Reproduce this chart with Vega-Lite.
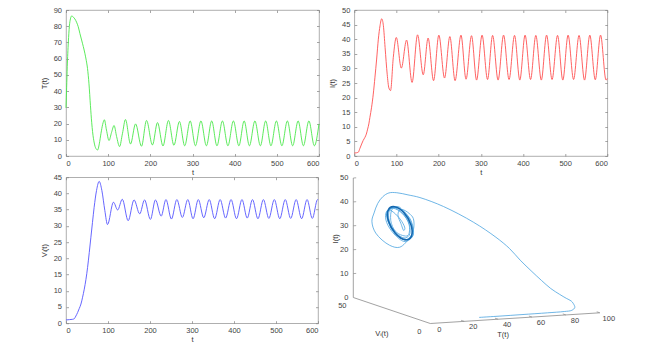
{
"$schema": "https://vega.github.io/schema/vega-lite/v6.json",
"background": "white",
"padding": {"left": 40, "top": 5, "right": 0, "bottom": 0},
"autosize": {"type": "pad"},
"bounds": "flush",
"columns": 2,
"align": "each",
"spacing": {"row": 21.2, "column": 35.3},
"datasets": {
"T": [{"t":0,"v":29.7},{"t":1.5,"v":42},{"t":3,"v":55},{"t":5.5,"v":70},{"t":8,"v":80},{"t":10.5,"v":84.5},{"t":13.4,"v":86.3},{"t":18,"v":85.5},{"t":21,"v":84.5},{"t":25,"v":82.5},{"t":29,"v":79.7},{"t":33,"v":75.5},{"t":37,"v":71.5},{"t":41,"v":67.5},{"t":45,"v":63},{"t":48,"v":59},{"t":51,"v":54},{"t":54.5,"v":44.5},{"t":58,"v":31},{"t":61,"v":20.5},{"t":63,"v":15},{"t":67,"v":8},{"t":71,"v":4.6},{"t":75,"v":3.7},{"t":79,"v":7.5},{"t":83,"v":14},{"t":87,"v":19.5},{"t":91,"v":22.3},{"t":96,"v":16},{"t":102,"v":9.5},{"t":108,"v":14.5},{"t":114,"v":18.8},{"t":120,"v":12},{"t":127,"v":5.8},{"t":134,"v":14},{"t":141,"v":22.5},{"t":153,"v":7.4},{"t":165,"v":19.8},{"t":179,"v":6.0},{"t":191,"v":21.9},{"t":205,"v":6.8},{"t":217,"v":20.6},{"t":230,"v":6.2},{"t":243,"v":21.9},{"t":256,"v":6.6},{"t":269,"v":21.3},{"t":281.5,"v":6.3},{"t":294.5,"v":21.6},{"t":307,"v":6.3},{"t":320,"v":21.6},{"t":333,"v":6.3},{"t":345.5,"v":21.6},{"t":358,"v":6.3},{"t":371,"v":21.6},{"t":384,"v":6.3},{"t":397,"v":21.6},{"t":410,"v":6.3},{"t":422.5,"v":21.6},{"t":435,"v":6.3},{"t":448,"v":21.6},{"t":461,"v":6.3},{"t":473.5,"v":21.6},{"t":486,"v":6.3},{"t":499,"v":21.6},{"t":512,"v":6.3},{"t":525,"v":21.6},{"t":537.5,"v":6.3},{"t":550.5,"v":21.6},{"t":563,"v":6.3},{"t":576,"v":21.6},{"t":589,"v":6.3},{"t":600,"v":19.8}],
"I": [{"t":0,"v":1.0},{"t":5,"v":1.1},{"t":9.5,"v":1.3},{"t":13,"v":2.5},{"t":17.4,"v":4.1},{"t":21,"v":5.3},{"t":25.3,"v":6.4},{"t":28.5,"v":7.5},{"t":31.6,"v":9.2},{"t":34.5,"v":11},{"t":37,"v":13.2},{"t":41,"v":16.7},{"t":45,"v":21.2},{"t":49,"v":27},{"t":53,"v":33.2},{"t":57,"v":40},{"t":61,"v":44.6},{"t":65,"v":47},{"t":69,"v":44.6},{"t":73,"v":37.2},{"t":78,"v":28},{"t":82,"v":23.3},{"t":86,"v":22.4},{"t":92.5,"v":33.8},{"t":99.6,"v":40.6},{"t":111.5,"v":30.1},{"t":124,"v":39.7},{"t":137,"v":25.2},{"t":150,"v":41.5},{"t":163.5,"v":27.8},{"t":175,"v":40.4},{"t":188,"v":25.8},{"t":200.5,"v":41.4},{"t":214,"v":26.7},{"t":226.6,"v":40.9},{"t":239,"v":25.8},{"t":253,"v":41.4},{"t":265,"v":26.3},{"t":278,"v":41.2},{"t":290,"v":26},{"t":303,"v":41.4},{"t":316,"v":26.2},{"t":328,"v":41.3},{"t":341,"v":26},{"t":354,"v":41.4},{"t":367,"v":26.2},{"t":380,"v":41.3},{"t":392.5,"v":26},{"t":405,"v":41.4},{"t":418,"v":26.2},{"t":430.5,"v":41.3},{"t":443.5,"v":26},{"t":456,"v":41.4},{"t":469,"v":26.2},{"t":482,"v":41.3},{"t":494.5,"v":26},{"t":507,"v":41.4},{"t":520,"v":26.2},{"t":533,"v":41.3},{"t":546,"v":26},{"t":558.5,"v":41.4},{"t":571.5,"v":26.1},{"t":584,"v":41.4},{"t":597,"v":26},{"t":600,"v":26.6}],
"V": [{"t":0,"v":1.0},{"t":8,"v":1.1},{"t":15.8,"v":1.2},{"t":19.8,"v":1.4},{"t":23.5,"v":2.2},{"t":27.7,"v":3.3},{"t":31.5,"v":4.5},{"t":35.6,"v":5.9},{"t":39.5,"v":8},{"t":43.5,"v":10.5},{"t":47.5,"v":13.5},{"t":51.4,"v":17.2},{"t":55.4,"v":21.8},{"t":59.3,"v":26.5},{"t":63,"v":31},{"t":67,"v":35.7},{"t":72.7,"v":40.9},{"t":79,"v":43.7},{"t":85.4,"v":40.9},{"t":92.5,"v":34.7},{"t":98.8,"v":30.4},{"t":113,"v":37.3},{"t":123,"v":34.9},{"t":134,"v":38.2},{"t":148,"v":31.6},{"t":162,"v":38},{"t":175.5,"v":33.7},{"t":187,"v":38},{"t":201,"v":32},{"t":213,"v":38},{"t":226.6,"v":33},{"t":238,"v":38.1},{"t":251,"v":32.1},{"t":264,"v":38.1},{"t":277,"v":32.6},{"t":290,"v":38.1},{"t":302.5,"v":32.2},{"t":315,"v":38.1},{"t":328,"v":32.5},{"t":341,"v":38.1},{"t":354,"v":32.2},{"t":367,"v":38.1},{"t":380,"v":32.4},{"t":393,"v":38.1},{"t":406,"v":32.2},{"t":419,"v":38.1},{"t":431.5,"v":32.4},{"t":444,"v":38.1},{"t":457,"v":32.2},{"t":470,"v":38.1},{"t":483,"v":32.3},{"t":496,"v":38.1},{"t":509,"v":32.2},{"t":522,"v":38.1},{"t":535,"v":32.3},{"t":548,"v":38.1},{"t":561,"v":32.2},{"t":574,"v":38.1},{"t":586.5,"v":32.3},{"t":599,"v":38.1},{"t":600,"v":38.1}],
"traj": [{"t":0,"T":29.7,"V":1.0,"I":1.0},{"t":1.5,"T":42,"V":1.0,"I":1.0},{"t":3,"T":55,"V":1.0,"I":1.05},{"t":5.5,"T":70,"V":1.05,"I":1.1},{"t":8,"T":80,"V":1.08,"I":1.2},{"t":10.5,"T":84.5,"V":1.1,"I":1.5},{"t":13.4,"T":86.3,"V":1.15,"I":2.6},{"t":18,"T":85.5,"V":1.3,"I":4.3},{"t":21,"T":84.5,"V":1.5,"I":5.3},{"t":25,"T":82.5,"V":2.5,"I":6.3},{"t":29,"T":79.7,"V":3.7,"I":7.8},{"t":33,"T":75.5,"V":4.9,"I":10.2},{"t":37,"T":71.5,"V":6.5,"I":13.4},{"t":41,"T":67.5,"V":8.3,"I":16.9},{"t":45,"T":63,"V":11,"I":21.3},{"t":48,"T":59,"V":13.5,"I":25.8},{"t":51,"T":54,"V":16.8,"I":30},{"t":54.5,"T":44.5,"V":20.8,"I":35.8},{"t":58,"T":31,"V":25.5,"I":42},{"t":61,"T":20.5,"V":29.3,"I":45.4},{"t":63,"T":15,"V":31,"I":46.4},{"t":65,"T":10.5,"V":33.3,"I":47},{"t":67,"T":8,"V":35.7,"I":46.5},{"t":69,"T":6,"V":37.5,"I":44.6},{"t":71,"T":4.6,"V":39.2,"I":41.5},{"t":73,"T":4,"V":40.9,"I":37.2},{"t":75,"T":3.7,"V":42,"I":33.5},{"t":79,"T":7.5,"V":43.7,"I":28},{"t":83,"T":14,"V":41.8,"I":23},{"t":86,"T":18.3,"V":40,"I":22.4},{"t":89,"T":21.5,"V":37,"I":27},{"t":91,"T":22.3,"V":35.5,"I":30.5},{"t":94,"T":19.5,"V":32.5,"I":36},{"t":96,"T":16,"V":31.3,"I":38.5},{"t":99.6,"T":11,"V":30.4,"I":40.6},{"t":102,"T":9.5,"V":30.8,"I":40},{"t":105,"T":10.5,"V":32.5,"I":37.5},{"t":108,"T":14.5,"V":35,"I":33.5},{"t":111.5,"T":17.8,"V":36.8,"I":30.1},{"t":114,"T":18.8,"V":37.2,"I":30.8},{"t":117,"T":16.5,"V":36.7,"I":34},{"t":120,"T":12,"V":35.8,"I":37.5},{"t":124,"T":7,"V":34.9,"I":39.7},{"t":127,"T":5.8,"V":35.3,"I":38},{"t":130,"T":7.5,"V":36.6,"I":34},{"t":134,"T":14,"V":38.2,"I":28},{"t":137,"T":19.5,"V":37.8,"I":25.2},{"t":141,"T":22.5,"V":36,"I":28},{"t":145,"T":19,"V":33.5,"I":35},{"t":148,"T":13,"V":31.6,"I":39.5},{"t":150,"T":10,"V":31.8,"I":41.5},{"t":153,"T":7.4,"V":32.8,"I":40.5},{"t":157,"T":8.5,"V":35,"I":35},{"t":160,"T":13,"V":37,"I":30},{"t":163.5,"T":18,"V":37.9,"I":27.8},{"t":166.2,"T":20,"V":36.5,"I":28},{"t":169.4,"T":18.6,"V":34.2,"I":33},{"t":172.6,"T":13.5,"V":33,"I":38.2},{"t":175.8,"T":8.2,"V":33.4,"I":40.6},{"t":179,"T":6,"V":34.8,"I":39},{"t":182.2,"T":8.5,"V":36.6,"I":34},{"t":185.4,"T":14,"V":37.9,"I":28.5},{"t":188.6,"T":19.6,"V":37.6,"I":25.9},{"t":191.8,"T":21.9,"V":35.8,"I":27.5},{"t":195,"T":19.5,"V":33.4,"I":33.2},{"t":198.2,"T":14,"V":32.1,"I":39},{"t":201.4,"T":8.5,"V":32.1,"I":41.4},{"t":204.6,"T":6.8,"V":33.9,"I":39.8},{"t":207.8,"T":8.8,"V":36.3,"I":34.5},{"t":211,"T":14,"V":37.8,"I":29.2},{"t":214.2,"T":19,"V":37.9,"I":26.7},{"t":217.4,"T":20.6,"V":36.4,"I":28},{"t":220.6,"T":18.8,"V":34.2,"I":33},{"t":223.8,"T":13.5,"V":33,"I":38.4},{"t":227,"T":8.3,"V":33.1,"I":40.9},{"t":230.2,"T":6.2,"V":34.5,"I":39.3},{"t":233.4,"T":8.5,"V":36.5,"I":34.2},{"t":236.6,"T":13.9,"V":37.9,"I":28.6},{"t":239.8,"T":19.4,"V":37.9,"I":25.9},{"t":243,"T":21.8,"V":36.1,"I":27.7}],
"loop": [{"k":0,"T":21.7,"V":36.14,"I":27.7},{"k":1,"T":19.43,"V":33.89,"I":32.94},{"k":2,"T":13.95,"V":32.37,"I":38.62},{"k":3,"T":8.47,"V":32.48,"I":41.41},{"k":4,"T":6.2,"V":34.16,"I":39.69},{"k":5,"T":8.47,"V":36.41,"I":34.46},{"k":6,"T":13.95,"V":37.93,"I":28.78},{"k":7,"T":19.43,"V":37.82,"I":25.99}],
"axes3d": [{"T":0,"V":50,"I":0,"T2":0,"V2":50,"I2":50},{"T":0,"V":50,"I":0,"T2":0,"V2":0,"I2":0},{"T":0,"V":0,"I":0,"T2":100,"V2":0,"I2":0}],
"ticks3d": [{"T":0,"V":50,"I":10,"T2":1.7,"V2":50,"I2":10},{"T":0,"V":50,"I":20,"T2":1.7,"V2":50,"I2":20},{"T":0,"V":50,"I":30,"T2":1.7,"V2":50,"I2":30},{"T":0,"V":50,"I":40,"T2":1.7,"V2":50,"I2":40},{"T":0,"V":50,"I":50,"T2":1.7,"V2":50,"I2":50},{"T":20,"V":0,"I":0,"T2":20,"V2":2,"I2":0},{"T":40,"V":0,"I":0,"T2":40,"V2":2,"I2":0},{"T":60,"V":0,"I":0,"T2":60,"V2":2,"I2":0},{"T":80,"V":0,"I":0,"T2":80,"V2":2,"I2":0},{"T":100,"V":0,"I":0,"T2":100,"V2":2,"I2":0}],
"ilab": [{"T":0,"V":50,"I":0,"label":"0"},{"T":0,"V":50,"I":10,"label":"10"},{"T":0,"V":50,"I":20,"label":"20"},{"T":0,"V":50,"I":30,"label":"30"},{"T":0,"V":50,"I":40,"label":"40"},{"T":0,"V":50,"I":50,"label":"50"}],
"tlab": [{"T":0,"V":0,"I":0,"label":"0"},{"T":20,"V":0,"I":0,"label":"20"},{"T":40,"V":0,"I":0,"label":"40"},{"T":60,"V":0,"I":0,"label":"60"},{"T":80,"V":0,"I":0,"label":"80"},{"T":100,"V":0,"I":0,"label":"100"}],
"vlab": [{"T":0,"V":0,"I":0,"label":"0"},{"T":0,"V":50,"I":0,"label":"50"}],
"ititle": [{"T":-10,"V":50,"I":25,"label":"I(t)"}],
"vtitle": [{"T":0,"V":25,"I":0,"label":"Vᵢ(t)"}],
"ttitle": [{"T":50,"V":0,"I":0,"label":"T(t)"}]
},
"concat": [
{
"width": 253, "height": 146,
"data": {"name": "T"},
"layer": [
{"mark": {"type": "line", "color": "#4ae84a", "strokeWidth": 0.9, "interpolate": "monotone"},
 "encoding": {
  "x": {"field": "t", "type": "quantitative", "scale": {"domain": [0, 600], "nice": false}, "axis": {"values": [0,100,200,300,400,500,600], "title": "t"}},
  "y": {"field": "v", "type": "quantitative", "scale": {"domain": [0, 90], "nice": false}, "axis": {"values": [0,10,20,30,40,50,60,70,80,90], "title": "T(t)"}}}},
{"mark": {"type": "line", "opacity": 0},
 "encoding": {
  "x": {"field": "t", "type": "quantitative", "scale": {"domain": [0, 600], "nice": false}, "axis": {"orient": "top", "values": [0,100,200,300,400,500,600], "labels": false, "title": null}},
  "y": {"field": "v", "type": "quantitative", "scale": {"domain": [0, 90], "nice": false}, "axis": {"orient": "right", "values": [0,10,20,30,40,50,60,70,80,90], "labels": false, "title": null}}}}
],
"resolve": {"axis": {"x": "independent", "y": "independent"}}
},
{
"width": 253, "height": 146,
"data": {"name": "I"},
"layer": [
{"mark": {"type": "line", "color": "#ff5050", "strokeWidth": 0.9, "interpolate": "monotone"},
 "encoding": {
  "x": {"field": "t", "type": "quantitative", "scale": {"domain": [0, 600], "nice": false}, "axis": {"values": [0,100,200,300,400,500,600], "title": "t"}},
  "y": {"field": "v", "type": "quantitative", "scale": {"domain": [0, 50], "nice": false}, "axis": {"values": [0,5,10,15,20,25,30,35,40,45,50], "title": "I(t)"}}}},
{"mark": {"type": "line", "opacity": 0},
 "encoding": {
  "x": {"field": "t", "type": "quantitative", "scale": {"domain": [0, 600], "nice": false}, "axis": {"orient": "top", "values": [0,100,200,300,400,500,600], "labels": false, "title": null}},
  "y": {"field": "v", "type": "quantitative", "scale": {"domain": [0, 50], "nice": false}, "axis": {"orient": "right", "values": [0,5,10,15,20,25,30,35,40,45,50], "labels": false, "title": null}}}}
],
"resolve": {"axis": {"x": "independent", "y": "independent"}}
},
{
"width": 252, "height": 146,
"data": {"name": "V"},
"layer": [
{"mark": {"type": "line", "color": "#5555ff", "strokeWidth": 0.9, "interpolate": "monotone"},
 "encoding": {
  "x": {"field": "t", "type": "quantitative", "scale": {"domain": [0, 600], "nice": false}, "axis": {"values": [0,100,200,300,400,500,600], "title": "t"}},
  "y": {"field": "v", "type": "quantitative", "scale": {"domain": [0, 45], "nice": false}, "axis": {"values": [0,5,10,15,20,25,30,35,40,45], "title": "Vᵢ(t)"}}}},
{"mark": {"type": "line", "opacity": 0},
 "encoding": {
  "x": {"field": "t", "type": "quantitative", "scale": {"domain": [0, 600], "nice": false}, "axis": {"orient": "top", "values": [0,100,200,300,400,500,600], "labels": false, "title": null}},
  "y": {"field": "v", "type": "quantitative", "scale": {"domain": [0, 45], "nice": false}, "axis": {"orient": "right", "values": [0,5,10,15,20,25,30,35,40,45], "labels": false, "title": null}}}}
],
"resolve": {"axis": {"x": "independent", "y": "independent"}}
},
{
"width": 255, "height": 151,
"view": {"stroke": null},
"layer": [
{"data": {"name": "axes3d"},
 "transform": [
  {"calculate": "1.695*datum.T-1.54*datum.V", "as": "u"},
  {"calculate": "0.107*datum.T+0.52*datum.V+2.39*datum.I", "as": "w"},
  {"calculate": "1.695*datum.T2-1.54*datum.V2", "as": "u2"},
  {"calculate": "0.107*datum.T2+0.52*datum.V2+2.39*datum.I2", "as": "w2"}],
 "mark": {"type": "rule", "color": "#8a8a8a", "strokeWidth": 0.8},
 "encoding": {
  "x": {"field": "u", "type": "quantitative", "scale": {"domain": [-76, 179], "nice": false, "zero": false}, "axis": null},
  "y": {"field": "w", "type": "quantitative", "scale": {"domain": [-4.7, 146.3], "nice": false, "zero": false}, "axis": null},
  "x2": {"field": "u2"}, "y2": {"field": "w2"}}},
{"data": {"name": "ticks3d"},
 "transform": [
  {"calculate": "1.695*datum.T-1.54*datum.V", "as": "u"},
  {"calculate": "0.107*datum.T+0.52*datum.V+2.39*datum.I", "as": "w"},
  {"calculate": "1.695*datum.T2-1.54*datum.V2", "as": "u2"},
  {"calculate": "0.107*datum.T2+0.52*datum.V2+2.39*datum.I2", "as": "w2"}],
 "mark": {"type": "rule", "color": "#8a8a8a", "strokeWidth": 0.7},
 "encoding": {
  "x": {"field": "u", "type": "quantitative", "scale": {"domain": [-76, 179], "nice": false, "zero": false}, "axis": null},
  "y": {"field": "w", "type": "quantitative", "scale": {"domain": [-4.7, 146.3], "nice": false, "zero": false}, "axis": null},
  "x2": {"field": "u2"}, "y2": {"field": "w2"}}},
{"data": {"name": "traj"},
 "transform": [
  {"calculate": "1.695*datum.T-1.54*datum.V", "as": "u"},
  {"calculate": "0.107*datum.T+0.52*datum.V+2.39*datum.I", "as": "w"}],
 "mark": {"type": "line", "color": "#4aa3e0", "strokeWidth": 0.8, "interpolate": "catmull-rom"},
 "encoding": {
  "x": {"field": "u", "type": "quantitative", "scale": {"domain": [-76, 179], "nice": false, "zero": false}, "axis": null},
  "y": {"field": "w", "type": "quantitative", "scale": {"domain": [-4.7, 146.3], "nice": false, "zero": false}, "axis": null},
  "order": {"field": "t", "type": "quantitative"}}},
{"data": {"name": "loop"},
 "transform": [
  {"calculate": "1.695*datum.T-1.54*datum.V", "as": "u"},
  {"calculate": "0.107*datum.T+0.52*datum.V+2.39*datum.I", "as": "w"}],
 "mark": {"type": "line", "color": "#1468b0", "strokeWidth": 1.6, "interpolate": "cardinal-closed"},
 "encoding": {
  "x": {"field": "u", "type": "quantitative", "scale": {"domain": [-76, 179], "nice": false, "zero": false}, "axis": null},
  "y": {"field": "w", "type": "quantitative", "scale": {"domain": [-4.7, 146.3], "nice": false, "zero": false}, "axis": null},
  "order": {"field": "k", "type": "quantitative"}}},
{"data": {"name": "ilab"},
 "transform": [
  {"calculate": "1.695*datum.T-1.54*datum.V", "as": "u"},
  {"calculate": "0.107*datum.T+0.52*datum.V+2.39*datum.I", "as": "w"}],
 "mark": {"type": "text", "align": "right", "baseline": "middle", "dx": -5, "fontSize": 7.5, "color": "#444444"},
 "encoding": {
  "x": {"field": "u", "type": "quantitative", "scale": {"domain": [-76, 179], "nice": false, "zero": false}, "axis": null},
  "y": {"field": "w", "type": "quantitative", "scale": {"domain": [-4.7, 146.3], "nice": false, "zero": false}, "axis": null},
  "text": {"field": "label"}}},
{"data": {"name": "tlab"},
 "transform": [
  {"calculate": "1.695*datum.T-1.54*datum.V", "as": "u"},
  {"calculate": "0.107*datum.T+0.52*datum.V+2.39*datum.I", "as": "w"}],
 "mark": {"type": "text", "align": "center", "baseline": "middle", "dx": 9, "dy": 6, "fontSize": 7.5, "color": "#444444"},
 "encoding": {
  "x": {"field": "u", "type": "quantitative", "scale": {"domain": [-76, 179], "nice": false, "zero": false}, "axis": null},
  "y": {"field": "w", "type": "quantitative", "scale": {"domain": [-4.7, 146.3], "nice": false, "zero": false}, "axis": null},
  "text": {"field": "label"}}},
{"data": {"name": "vlab"},
 "transform": [
  {"calculate": "1.695*datum.T-1.54*datum.V", "as": "u"},
  {"calculate": "0.107*datum.T+0.52*datum.V+2.39*datum.I", "as": "w"}],
 "mark": {"type": "text", "align": "center", "baseline": "middle", "dx": -11, "dy": 8.5, "fontSize": 7.5, "color": "#444444"},
 "encoding": {
  "x": {"field": "u", "type": "quantitative", "scale": {"domain": [-76, 179], "nice": false, "zero": false}, "axis": null},
  "y": {"field": "w", "type": "quantitative", "scale": {"domain": [-4.7, 146.3], "nice": false, "zero": false}, "axis": null},
  "text": {"field": "label"}}},
{"data": {"name": "ititle"},
 "transform": [
  {"calculate": "1.695*datum.T-1.54*datum.V", "as": "u"},
  {"calculate": "0.107*datum.T+0.52*datum.V+2.39*datum.I", "as": "w"}],
 "mark": {"type": "text", "align": "center", "baseline": "middle", "angle": 270, "fontSize": 7.5, "color": "#333333"},
 "encoding": {
  "x": {"field": "u", "type": "quantitative", "scale": {"domain": [-76, 179], "nice": false, "zero": false}, "axis": null},
  "y": {"field": "w", "type": "quantitative", "scale": {"domain": [-4.7, 146.3], "nice": false, "zero": false}, "axis": null},
  "text": {"field": "label"}}},
{"data": {"name": "vtitle"},
 "transform": [
  {"calculate": "1.695*datum.T-1.54*datum.V", "as": "u"},
  {"calculate": "0.107*datum.T+0.52*datum.V+2.39*datum.I", "as": "w"}],
 "mark": {"type": "text", "align": "center", "baseline": "middle", "dx": -10, "dy": 23, "fontSize": 7.5, "color": "#333333"},
 "encoding": {
  "x": {"field": "u", "type": "quantitative", "scale": {"domain": [-76, 179], "nice": false, "zero": false}, "axis": null},
  "y": {"field": "w", "type": "quantitative", "scale": {"domain": [-4.7, 146.3], "nice": false, "zero": false}, "axis": null},
  "text": {"field": "label"}}},
{"data": {"name": "ttitle"},
 "transform": [
  {"calculate": "1.695*datum.T-1.54*datum.V", "as": "u"},
  {"calculate": "0.107*datum.T+0.52*datum.V+2.39*datum.I", "as": "w"}],
 "mark": {"type": "text", "align": "center", "baseline": "middle", "dx": -12, "dy": 17, "fontSize": 7.5, "color": "#333333"},
 "encoding": {
  "x": {"field": "u", "type": "quantitative", "scale": {"domain": [-76, 179], "nice": false, "zero": false}, "axis": null},
  "y": {"field": "w", "type": "quantitative", "scale": {"domain": [-4.7, 146.3], "nice": false, "zero": false}, "axis": null},
  "text": {"field": "label"}}}
]
}
],
"config": {
"font": "Liberation Sans",
"view": {"stroke": "#9a9a9a", "strokeWidth": 0.8},
"axis": {"grid": false, "domain": false, "ticks": true, "tickColor": "#808080", "tickSize": -2.5, "tickWidth": 0.7, "labelFontSize": 7.5, "labelColor": "#444444", "titleFontSize": 7.5, "titleFontWeight": "normal", "titleColor": "#333333", "labelPadding": 6.5, "titlePadding": 3},
"axisY": {"labelPadding": 7, "titlePadding": 4.5},
"axisX": {"labelPadding": 5.5, "titlePadding": 2}
}
}
